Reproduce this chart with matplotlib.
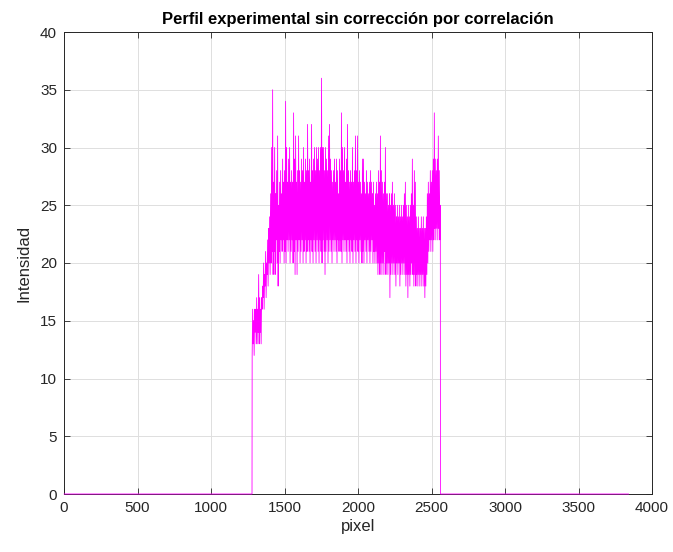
import matplotlib
matplotlib.use("Agg")
from matplotlib import pyplot as plt
import numpy as np

# perfil medido: por cada columna del dibujo, valor bajo y valor alto
n_pixeles = 3840
x_inicio = 1280
x_fin = 2560

bajos = [
    12, 13, 12, 14, 13, 13, 14, 13, 14, 13,
    16, 17, 16, 18, 17, 19, 18, 20, 19, 20,
    21, 19, 21, 19, 22, 20, 18, 21, 20, 22,
    21, 22, 20, 21, 20, 22, 21, 22, 20, 21,
    22, 20, 21, 19, 22, 19, 21, 22, 20, 21,
    22, 20, 21, 22, 20, 21, 22, 21, 20, 22,
    21, 20, 22, 21, 20, 22, 21, 20, 22, 21,
    20, 22, 21, 19, 21, 22, 20, 21, 22, 21,
    20, 22, 21, 22, 21, 20, 22, 21, 22, 21,
    20, 22, 21, 22, 21, 20, 22, 21, 20, 22,
    21, 20, 22, 21, 20, 22, 21, 20, 22, 21,
    20, 21, 20, 22, 21, 20, 22, 21, 20, 21,
    22, 20, 21, 20, 21, 20, 19, 20, 19, 20,
    19, 20, 19, 21, 19, 20, 19, 20, 17, 19,
    20, 19, 20, 19, 18, 20, 19, 20, 18, 19,
    20, 19, 20, 19, 18, 19, 17, 19, 18, 19,
    20, 19, 18, 19, 18, 19, 18, 19, 18, 19,
    18, 19, 18, 17, 18, 19, 20, 21, 22, 21,
    22, 21, 22, 23, 22, 23, 22, 23, 22, 23,
]
altos = [
    16, 15, 16, 16, 17, 16, 19, 17, 16, 17,
    18, 20, 19, 21, 20, 22, 23, 24, 26, 30,
    35, 27, 30, 26, 28, 31, 25, 27, 28, 26,
    29, 27, 28, 34, 30, 27, 29, 30, 27, 28,
    27, 33, 29, 31, 27, 28, 31, 28, 27, 29,
    28, 30, 27, 29, 28, 32, 28, 29, 27, 32,
    28, 29, 30, 28, 30, 29, 30, 28, 30, 36,
    30, 30, 28, 30, 29, 28, 31, 32, 29, 28,
    27, 28, 29, 27, 29, 28, 26, 29, 28, 33,
    30, 28, 30, 27, 29, 32, 28, 27, 28, 27,
    30, 27, 28, 31, 28, 31, 27, 28, 27, 26,
    29, 29, 27, 26, 28, 27, 26, 27, 28, 27,
    26, 27, 25, 26, 27, 26, 28, 27, 31, 28,
    27, 26, 27, 30, 26, 26, 25, 26, 25, 26,
    27, 25, 26, 25, 24, 25, 24, 25, 24, 25,
    24, 25, 26, 27, 25, 24, 25, 24, 25, 26,
    29, 25, 28, 27, 24, 23, 24, 23, 23, 24,
    23, 24, 23, 23, 24, 26, 27, 26, 28, 27,
    28, 29, 33, 29, 28, 29, 31, 28, 25,
]

senal = np.column_stack([bajos[:len(altos)], altos]).ravel()
x_senal = np.linspace(x_inicio, x_fin, len(senal))
x_antes = np.arange(1, x_inicio)
x_despues = np.arange(x_fin + 1, n_pixeles + 1)
x = np.concatenate([x_antes, x_senal, x_despues])
y = np.concatenate([np.zeros(len(x_antes)), senal, np.zeros(len(x_despues))])

plt.rcParams['font.family'] = ['Liberation Sans', 'DejaVu Sans']
gris = '#262626'

fig = plt.figure(figsize=(6.73, 5.52), dpi=100)
ax = fig.add_axes([64 / 673, 1 - 494 / 552, 588 / 673, 462 / 552])
ax.plot(x, y, color='#ff00ff', linewidth=0.6, zorder=3, clip_on=False)

ax.set_xlim(0, 4000)
ax.set_ylim(0, 40)
ax.set_xticks(np.arange(0, 4001, 500))
ax.set_yticks(np.arange(0, 41, 5))
ax.grid(True, color='#dedede', linewidth=0.7)
ax.set_axisbelow(True)
ax.tick_params(direction='in', top=True, right=True, length=4, width=0.6,
               colors=gris, labelsize=11, pad=5)
for s in ax.spines.values():
    s.set_color(gris)
    s.set_linewidth(0.7)

ax.set_title('Perfil experimental sin corrección por correlación',
             fontsize=12, fontweight='bold', color='black', pad=6)
ax.set_xlabel('pixel', fontsize=12, color=gris, labelpad=3)
ax.set_ylabel('Intensidad', fontsize=12, color=gris, labelpad=6)

fig.savefig('out.png', dpi=100)
